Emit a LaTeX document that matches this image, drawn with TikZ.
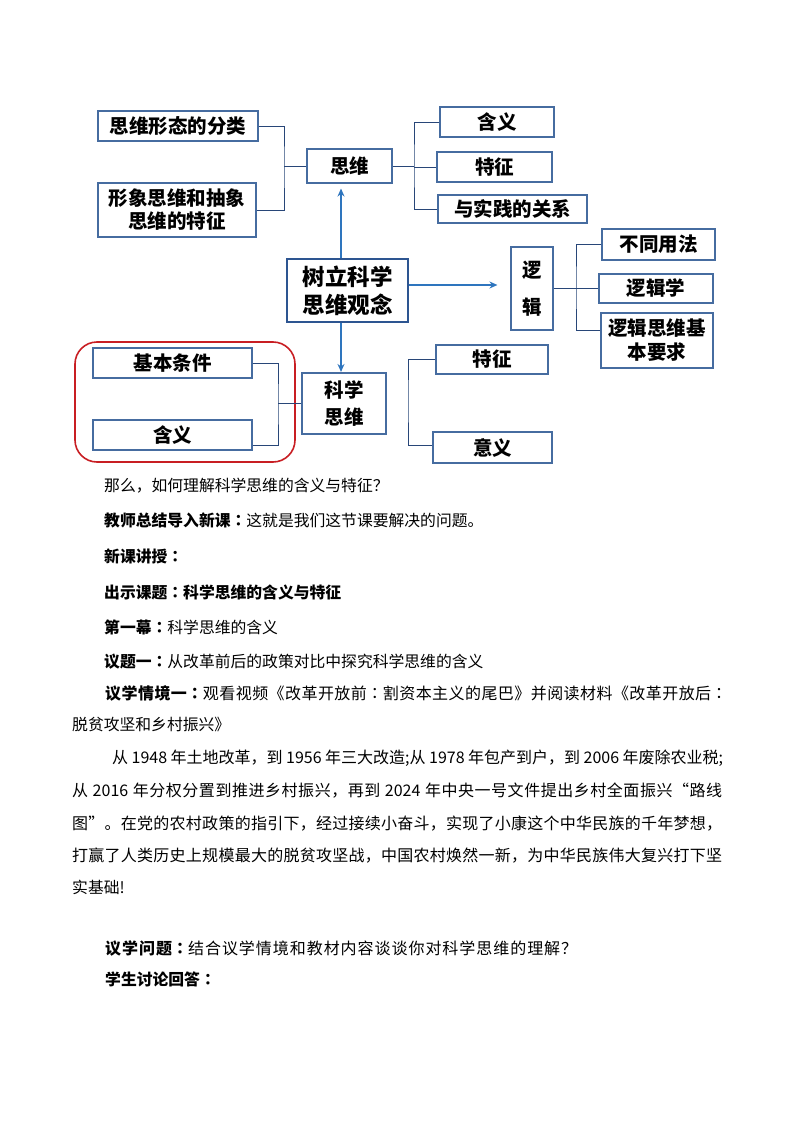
\documentclass[tikz,border=0pt]{standalone}
\usepackage{fontspec}
\newfontfamily\cjk{Noto Sans CJK SC}
\newfontfamily\cjktc{Noto Sans CJK TC}
\usetikzlibrary{arrows.meta}
\definecolor{boxc}{RGB}{70,108,160}
\definecolor{cenc}{RGB}{45,85,145}
\definecolor{linec}{RGB}{40,70,120}
\definecolor{arrc}{RGB}{46,117,190}
\definecolor{redc}{RGB}{200,30,35}
\newcommand\myglue{\hskip 0pt plus 1pt\relax}
\newcommand\cc{{\cjktc ：}}
\newcount\mycnt
\newcommand\setcls[2]{\mycnt=#1\relax
  \loop \XeTeXcharclass\mycnt=1 \advance\mycnt by 1 \ifnum\mycnt<#2\repeat}
\setcls{"4E00}{"A000}
\setcls{"3000}{"3040}
\setcls{"FF00}{"FF60}
\setcls{"2018}{"2020}
\XeTeXinterchartokenstate=1
\XeTeXinterchartoks 0 1 = {\myglue}
\XeTeXinterchartoks 1 0 = {\myglue}
\XeTeXinterchartoks 1 1 = {\myglue}
\begin{document}
\begin{tikzpicture}[x=1pt,y=-1pt,
  bx/.style={draw=boxc, line width=1.1pt, fill=white, inner sep=0pt, align=center,
    font=\cjk\bfseries\fontsize{19.5}{23}\selectfont},
  cn/.style={draw=linec, line width=0.8pt},
  arr/.style={draw=arrc, line width=1.5pt, -{Stealth[length=8pt,width=7pt]}},
  txt/.style={anchor=base west, inner sep=0pt, font=\cjk\fontsize{15.8}{16}\selectfont},
  jtxt/.style={anchor=base west, inner sep=0pt, font=\cjk\fontsize{16}{16}\selectfont}]
\useasboundingbox (0,0) rectangle (794,1123);

% red group frame
\node[draw=redc, line width=1.6pt, rounded corners=22pt, minimum width=220pt, minimum height=120pt, inner sep=0pt] (grp) at (185,402) {};

% boxes
\node[bx, minimum width=160pt, minimum height=30pt] (fenlei) at (178,126) {思维形态的分类};
\node[bx, minimum width=158pt, minimum height=54pt] (xingxiang) at (177,210) {形象思维和抽象\\思维的特征};
\node[bx, minimum width=85pt, minimum height=34pt] (siwei) at (349.5,166) {思维};
\node[bx, minimum width=114pt, minimum height=30pt] (hanyi1) at (497,122) {含义};
\node[bx, minimum width=115pt, minimum height=30pt] (tezheng1) at (494.5,167) {特征};
\node[bx, minimum width=149pt, minimum height=28pt] (shijian) at (512.5,209) {与实践的关系};
\node[bx, draw=cenc, line width=2pt, minimum width=121pt, minimum height=63pt,
  font=\cjk\bfseries\fontsize{22.5}{28}\selectfont] (center) at (347.5,290.5) {树立科学\\思维观念};
\node[bx, minimum width=42pt, minimum height=83pt, font=\cjk\bfseries\fontsize{19.5}{37}\selectfont] (luoji) at (532,288.5) {逻\\辑};
\node[bx, minimum width=113pt, minimum height=31pt] (butong) at (658.5,244.5) {不同用法};
\node[bx, minimum width=114pt, minimum height=29pt] (luojixue) at (656,288.5) {逻辑学};
\node[bx, minimum width=112pt, minimum height=55pt, font=\cjk\bfseries\fontsize{19.5}{24}\selectfont] (yaoqiu) at (657,340.5) {逻辑思维基\\本要求};
\node[bx, minimum width=159pt, minimum height=30pt] (jiben) at (172.5,363) {基本条件};
\node[bx, minimum width=159pt, minimum height=30pt] (hanyi2) at (172.5,435) {含义};
\node[bx, minimum width=84pt, minimum height=61pt, font=\cjk\bfseries\fontsize{19.5}{27}\selectfont] (kexue) at (344,403.5) {科学\\思维};
\node[bx, minimum width=112pt, minimum height=29pt] (tezheng2) at (492,359.5) {特征};
\node[bx, minimum width=119pt, minimum height=31pt] (yiyi) at (492.5,447.5) {意义};

% arrows
\coordinate (ax) at (341,0);
\coordinate (ay) at (0,285);
\draw[arr, shorten >=5pt] (center.north -| ax) -- (siwei.south -| ax);
\draw[arr, shorten >=0.5pt] (center.south -| ax) -- (kexue.north -| ax);
\draw[arr, shorten >=13pt] (center.east |- ay) -- (luoji.west |- ay);

% connectors
\coordinate (j1) at (284,166);
\draw[cn] (fenlei.east) -| (j1) |- (xingxiang.east);
\draw[cn] (j1 |- siwei.west) -- (siwei.west);

\coordinate (j2) at (414,166);
\draw[cn] (siwei.east) -- (siwei.east -| j2);
\draw[cn] (hanyi1.west) -| (j2) |- (shijian.west);
\draw[cn] (j2 |- tezheng1.west) -- (tezheng1.west);

\coordinate (j3) at (576,288);
\draw[cn] (luoji.east) -- (luoji.east -| j3);
\draw[cn] (butong.west) -| (j3) |- ([yshift=10pt]yaoqiu.west);
\draw[cn] (j3 |- luojixue.west) -- (luojixue.west);

\coordinate (j4) at (278,404);
\draw[cn] (jiben.east) -| (j4) |- ([yshift=-10pt]hanyi2.east);
\draw[cn] (j4 |- kexue.west) -- (kexue.west);

\coordinate (j5) at (408,400);
\draw[cn] (tezheng2.west) -| (j5) |- ([yshift=2pt]yiyi.west);

% body text
\node[txt] (l1) at (104,491) {那么，如何理解科学思维的含义与特征？};
\node[txt] (l2) at (104,526) {{\bfseries 教师总结导入新课\cc}这就是我们这节课要解决的问题。};
\node[txt] (l3) at (104,562) {{\bfseries 新课讲授\cc}};
\node[txt] (l4) at (104,598) {{\bfseries 出示课题\cc 科学思维的含义与特征}};
\node[txt] (l5) at (104,633) {{\bfseries 第一幕\cc}科学思维的含义};
\node[txt] (l6) at (104,667) {{\bfseries 议题一\cc}从改革前后的政策对比中探究科学思维的含义};
\node[jtxt] (l7) at (105,699) {\hbox to 622pt{{\bfseries 议学情境一\cc}观看视频《改革开放前\cc 割资本主义的尾巴》并阅读材料《改革开放后\cc}};
\node[txt] (l8) at (72,730) {脱贫攻坚和乡村振兴》};
\node[jtxt] (l9) at (112,763) {\hbox to 611pt{从 1948 年土地改革，到 1956 年三大改造;从 1978 年包产到户，到 2006 年废除农业税;}};
\node[jtxt] (l10) at (72,796) {\hbox to 650pt{从 2016 年分权分置到推进乡村振兴，再到 2024 年中央一号文件提出乡村全面振兴“路线}};
\node[jtxt] (l11) at (72,829) {\hbox to 650pt{图”。在党的农村政策的指引下，经过接续小奋斗，实现了小康这个中华民族的千年梦想，}};
\node[jtxt] (l12) at (72,861) {\hbox to 650pt{打赢了人类历史上规模最大的脱贫攻坚战，中国农村焕然一新，为中华民族伟大复兴打下坚}};
\node[txt] (l13) at (72,893) {实基础!};
\node[jtxt] (l14) at (105,954) {\hbox to 472pt{{\bfseries 议学问题\cc}结合议学情境和教材内容谈谈你对科学思维的理解？}};
\node[txt] (l15) at (105,985) {{\bfseries 学生讨论回答\cc}};
\end{tikzpicture}
\end{document}
